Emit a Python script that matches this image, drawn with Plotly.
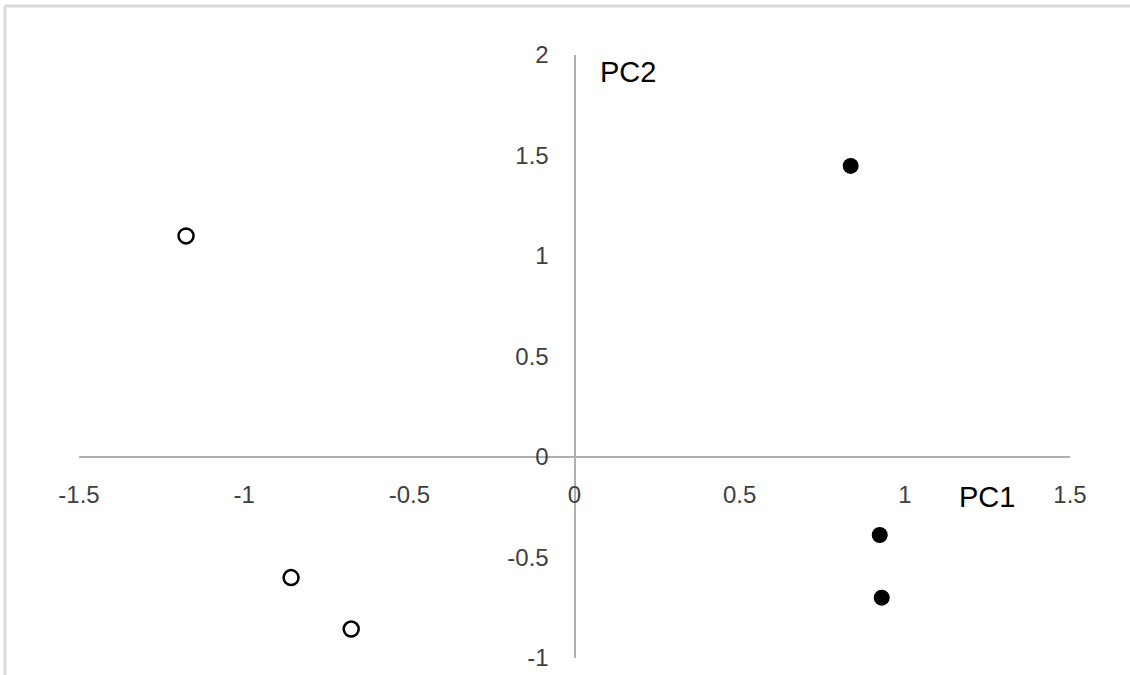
import plotly.graph_objects as go

# Data (PC scores)
group_open_pc1 = [-1.176, -0.858, -0.676]
group_open_pc2 = [1.10, -0.60, -0.856]
group_filled_pc1 = [0.836, 0.924, 0.930]
group_filled_pc2 = [1.448, -0.388, -0.700]

x_ticks = [-1.5, -1, -0.5, 0, 0.5, 1, 1.5]
x_ticklabels = ["-1.5", "-1", "-0.5", "0", "0.5", "1", "1.5"]
y_ticks = [-1, -0.5, 0, 0.5, 1, 1.5, 2]
y_ticklabels = ["-1", "-0.5", "0", "0.5", "1", "1.5", "2"]

W, H = 1130, 675
ML, MR, MT, MB = 79, 60, 55, 17
pw = W - ML - MR
ph = H - MT - MB

fig = go.Figure()
fig.add_trace(go.Scatter(
    x=group_open_pc1, y=group_open_pc2, mode="markers",
    marker=dict(symbol="circle-open", size=15, color="black", line=dict(width=2.5, color="black")),
    showlegend=False, hoverinfo="skip"))
fig.add_trace(go.Scatter(
    x=group_filled_pc1, y=group_filled_pc2, mode="markers",
    marker=dict(symbol="circle", size=16, color="black"),
    showlegend=False, hoverinfo="skip"))

tickfont = dict(family="Liberation Sans, Arial, sans-serif", size=24, color="#404040")

fig.update_layout(
    width=W, height=H,
    margin=dict(l=ML, r=MR, t=MT, b=MB, autoexpand=False),
    paper_bgcolor="white", plot_bgcolor="white",
    xaxis=dict(range=[-1.5, 1.5], anchor="free", position=1/3, automargin=False,
               showgrid=False, zeroline=False, showline=True, linecolor="#b0b0b0", linewidth=2,
               ticks="", tickvals=x_ticks, ticktext=x_ticklabels, tickfont=tickfont,
               ticklabelstandoff=16),
    yaxis=dict(range=[-1, 2], anchor="free", position=0.5, automargin=False,
               showgrid=False, zeroline=False, showline=True, linecolor="#b0b0b0", linewidth=2,
               ticks="", tickvals=y_ticks, ticktext=y_ticklabels, tickfont=tickfont,
               ticklabelstandoff=20),
)

# Axis titles
fig.add_annotation(x=0.07, y=1.915, text="PC2", showarrow=False, xanchor="left",
                   font=dict(family="Liberation Sans, Arial, sans-serif", size=29, color="black"))
fig.add_annotation(x=1.25, y=-0.2, text="PC1", showarrow=False, xanchor="center",
                   font=dict(family="Liberation Sans, Arial, sans-serif", size=29, color="black"))

# Light frame (top and left edges)
left_px, top_px = 5, 6
xl = (left_px - ML) / pw
yt = (H - MB - top_px) / ph
fig.add_shape(type="line", xref="paper", yref="paper", x0=xl, x1=(W - ML) / pw, y0=yt, y1=yt,
              line=dict(color="#d9d9d9", width=3))
fig.add_shape(type="line", xref="paper", yref="paper", x0=xl, x1=xl, y0=-MB / ph, y1=yt,
              line=dict(color="#d9d9d9", width=3))

fig.write_html("out.html", post_script="document.body.style.margin='0';",
               config={"displayModeBar": False})
